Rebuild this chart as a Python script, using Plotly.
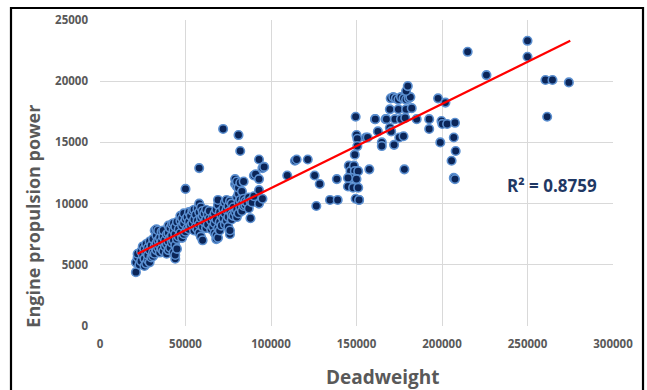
import plotly.graph_objects as go

# Deadweight (x) and engine propulsion power (y)
deadweight = [
    21000, 21000, 22000, 22000, 23000, 24000, 24000, 25000, 25000,
    26000, 26000, 26000, 27000, 27000, 27000, 28000, 28000, 28000,
    29000, 29000, 29000, 30000, 30000, 31000, 31000, 31000,
    32000, 32000, 32000, 33000, 33000, 33000, 33000, 34000, 34000, 34000,
    35000, 35000, 35000, 36000, 36000, 36000, 37000, 37000, 37000,
    38000, 38000, 39000, 39000, 39000, 40000, 40000, 40000, 40000,
    41000, 41000, 41000, 42000, 42000, 42000, 43000, 43000, 43000, 43000,
    44000, 44000, 44000, 44000, 44000, 45000, 45000, 45000, 46000, 46000,
    47000, 47000, 47000, 48000, 48000, 48000, 49000, 49000, 49000,
    50000, 50000, 50000, 51000, 51000, 52000, 52000, 52000, 53000, 53000,
    54000, 54000, 55000, 55000, 55000, 56000, 56000, 57000, 57000, 57000,
    58000, 58000, 58000, 58000, 58000, 59000, 59000, 59000,
    60000, 60000, 60000, 60000, 61000, 61000, 62000, 62000, 62000,
    63000, 63000, 64000, 64000, 65000, 65000, 66000, 66000,
    67000, 67000, 67000, 68000, 68000, 68000, 68000, 69000, 69000, 69000, 69000,
    70000, 70000, 70000, 71000, 71000, 72000, 72000, 72000,
    73000, 73000, 73000, 74000, 74000, 74000, 75000, 75000, 75000,
    76000, 76000, 76000, 76000, 77000, 77000, 77000, 78000, 78000,
    79000, 79000, 79000, 80000, 80000, 80000, 80000, 80000,
    81000, 81000, 81000, 81000, 81000, 82000, 82000, 82000, 82000,
    83000, 83000, 83000, 84000, 84000, 84000, 85000, 85000, 86000,
    87000, 87000, 88000, 88000, 89000, 90000, 90000, 91000,
    93000, 93000, 93000, 93000, 95000, 95000, 96000,
    109500, 114000, 115000, 121500, 125500, 128500, 126500, 134500, 139000, 138500,
    145000, 145500, 146500, 148500, 149000, 149500, 150000, 150500, 150500,
    149000, 151000, 147000, 150000, 145000, 148000, 151000, 151500, 149500, 151500,
    155500, 157500, 156500, 160800, 161000, 162500,
    164800, 164800, 167000, 169500, 170300, 172000, 175000, 177500, 178000,
    169500, 174500, 179000, 167500, 172500, 176000, 178500,
    170000, 171500, 173000, 174500, 176000, 177500, 179000, 180500, 181500,
    179000, 180000, 182300, 185200,
    192500, 192500, 197700, 199000, 199700, 200200, 202000, 203000,
    205600, 206900, 206900, 207600, 207600, 208000,
    215000, 226000, 250000, 250000, 260500, 264600, 261500, 274200,
]
engine_power = [
    4400, 5200, 5600, 5900, 5000, 5300, 6100, 5800, 6500,
    4900, 5500, 6300, 5100, 6000, 6700, 5400, 5800, 6400,
    5200, 6200, 6900, 5600, 6600, 5700, 6000, 7100,
    5900, 6500, 7800, 6200, 6800, 7400, 7900, 6400, 7000, 7800,
    6000, 6600, 7200, 6300, 6900, 7700, 6100, 7300, 7800,
    6500, 7000, 5900, 6700, 7500, 6200, 6900, 7600, 8200,
    6400, 7200, 8000, 6800, 7400, 8300, 6000, 7000, 7800, 8400,
    5500, 5800, 6600, 7500, 8100, 6300, 7100, 8500, 7300, 7900,
    7600, 8600, 9000, 7200, 8200, 8800, 7500, 8400, 9200,
    7700, 8700, 11200, 8000, 8900, 7900, 8500, 9300, 8200, 9000,
    8400, 9400, 7800, 8700, 9500, 8100, 9100, 7900, 8600, 9600,
    7600, 8300, 9300, 10000, 12900, 7300, 8800, 9700,
    7000, 8100, 9000, 9400, 8500, 9200, 8000, 8700, 9500,
    8300, 9100, 8800, 9400, 7900, 8600, 8100, 8900,
    7600, 8400, 9200, 7100, 7400, 8700, 9500, 7200, 8000, 9900, 10300,
    7800, 8500, 9300, 8200, 9000, 8800, 9600, 16100,
    8300, 9200, 10100, 8600, 9500, 10300, 8100, 8900, 9800,
    7500, 7800, 9400, 10200, 8700, 9100, 10000, 9000, 9700,
    9300, 11600, 12000, 8900, 9500, 10500, 11400, 11800,
    9200, 10100, 10800, 11300, 15600, 9700, 10300, 11700, 14300,
    9400, 10000, 11000, 9800, 10400, 11800, 9900, 10200, 10100,
    9600, 10500, 8800, 10200, 10100, 12300, 10600, 12400,
    13600, 12000, 11100, 10000, 12900, 10400, 13000,
    12300, 13500, 13600, 13600, 12300, 11600, 9800, 10300, 10300, 12000,
    11400, 13100, 12650, 13100, 14000, 17100, 15600, 15300, 14700,
    12650, 12650, 12100, 12000, 12100, 11300, 11300, 10300, 10400, 10300,
    15400, 12800, 15400, 16900, 16900, 15900,
    15000, 14700, 16900, 16200, 15900, 14800, 15400, 15500, 12800,
    17700, 17700, 17700, 16900, 16900, 16900, 17000,
    18600, 18700, 18600, 18500, 18700, 18600, 18500, 18600, 18700,
    19200, 19600, 17800, 16900,
    16900, 16100, 18600, 15000, 16750, 16500, 18250, 16500,
    13500, 15400, 12100, 16600, 12000, 14300,
    22400, 20500, 23300, 22000, 20100, 20100, 17100, 19900,
]

# Linear trend line end points and fit statistic
trend_x = [22000, 275000]
trend_y = [5900, 23300]
r_squared_label = "R² = 0.8759"

x_tick_values = [0, 50000, 100000, 150000, 200000, 250000, 300000]
y_tick_values = [0, 5000, 10000, 15000, 20000, 25000]

fig = go.Figure()
fig.add_trace(go.Scatter(
    x=deadweight, y=engine_power, mode="markers",
    marker=dict(size=8.5, color="#0b2558",
                line=dict(color="#5b8fd0", width=1.6)),
    showlegend=False, hoverinfo="skip",
))
fig.add_trace(go.Scatter(
    x=trend_x, y=trend_y, mode="lines",
    line=dict(color="#ff0000", width=2.2),
    showlegend=False, hoverinfo="skip",
))

fig.add_annotation(x=264300, y=11500, xref="x", yref="y", text=r_squared_label,
                   showarrow=False, xanchor="center", yanchor="middle",
                   font=dict(family="Open Sans", size=17, color="#1f3864", weight="bold"))
fig.add_annotation(x=-0.131, y=0.36, xref="paper", yref="paper",
                   text="Engine propulsion power", textangle=-90, showarrow=False,
                   xanchor="center", yanchor="middle",
                   font=dict(family="Open Sans", size=18, color="#595959", weight="bold"))
fig.add_annotation(x=0.552, y=-0.167, xref="paper", yref="paper",
                   text="Deadweight", showarrow=False,
                   xanchor="center", yanchor="middle",
                   font=dict(family="Open Sans", size=19, color="#595959", weight="bold"))

# outer frame
fig.add_shape(type="rect", xref="paper", yref="paper",
              x0=-0.1735, x1=1.0585, y0=-0.25, y1=1.0392,
              line=dict(color="#000000", width=2.2), fillcolor="rgba(0,0,0,0)",
              layer="below")

axis_common = dict(showgrid=True, gridcolor="#d9d9d9", gridwidth=1,
                   zeroline=False, showline=False, ticks="",
                   tickfont=dict(family="Open Sans", size=11.5, color="#595959", weight="bold"))
fig.update_xaxes(range=[0, 300000], tickvals=x_tick_values,
                 ticktext=[str(v) for v in x_tick_values],
                 ticklabelstandoff=9, **axis_common)
fig.update_yaxes(range=[0, 25000], tickvals=y_tick_values,
                 ticktext=[str(v) for v in y_tick_values],
                 ticklabelstandoff=11, **axis_common)

fig.update_layout(
    width=647, height=390,
    margin=dict(l=100, r=34, t=20, b=64),
    paper_bgcolor="white", plot_bgcolor="white",
    hovermode=False,
)
# remove the browser's default page margin so the figure fills the window exactly
fig.write_html("out.html", config={"displayModeBar": False, "staticPlot": True},
               post_script="document.body.style.margin='0';document.body.style.overflow='hidden';")
